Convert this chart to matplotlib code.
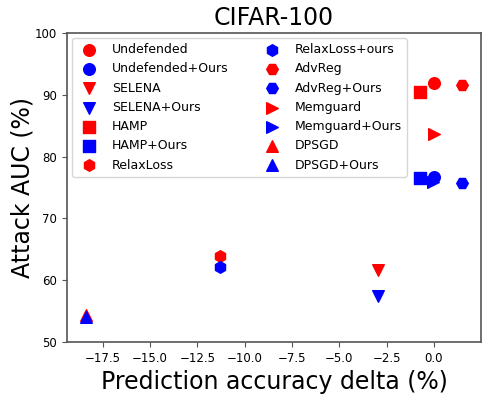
import matplotlib
matplotlib.use("Agg")
import matplotlib.pyplot as plt

# methods: (label, marker, colour, x = accuracy delta, y = attack AUC)
labels = ["Undefended", "Undefended+Ours", "SELENA", "SELENA+Ours",
          "HAMP", "HAMP+Ours", "RelaxLoss", "RelaxLoss+ours",
          "AdvReg", "AdvReg+Ours", "Memguard", "Memguard+Ours",
          "DPSGD", "DPSGD+Ours"]
markers = ["o", "o", "v", "v", "s", "s", "h", "h",
           "H", "H", ">", ">", "^", "^"]
colors = ["red", "blue"] * 7
acc_delta = [0.0, 0.0, -2.95, -2.95, -0.75, -0.75, -11.3, -11.3,
             1.5, 1.5, 0.0, -0.05, -18.4, -18.4]
attack_auc = [91.9, 76.7, 61.6, 57.5, 90.5, 76.5, 63.9, 62.2,
              91.6, 75.8, 83.6, 75.9, 54.4, 54.1]

fig = plt.figure(figsize=(4.99, 3.98), dpi=100)
ax = fig.add_axes([0.134, 0.141, 0.83, 0.776])

for lab, m, c, x, y in zip(labels, markers, colors, acc_delta, attack_auc):
    ax.scatter(x, y, marker=m, color=c, s=70, label=lab, zorder=3)

ax.set_ylim(50, 100)
ax.set_title("CIFAR-100", fontsize=17)
ax.set_xlabel("Prediction accuracy delta (%)", fontsize=17)
ax.set_ylabel("Attack AUC (%)", fontsize=17, labelpad=0)
ax.tick_params(labelsize=8.5, color="#555555")
for sp in ax.spines.values():
    sp.set_color("#555555")
    sp.set_linewidth(1.2)

leg = ax.legend(ncol=2, fontsize=9, loc="upper left", borderaxespad=0.4,
                handletextpad=0.8, columnspacing=2.5)
leg.set_zorder(2)

fig.savefig("out.png", dpi=100)
